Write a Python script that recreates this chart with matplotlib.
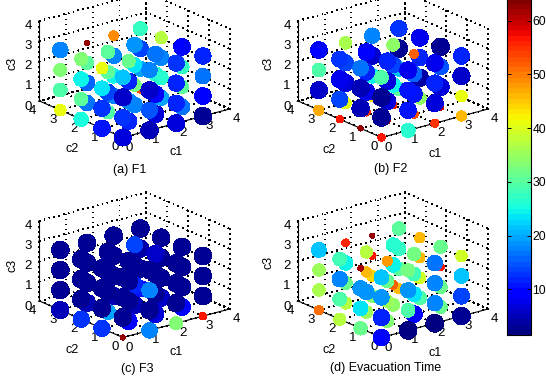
import matplotlib
matplotlib.use('Agg')
import matplotlib.pyplot as plt
import numpy as np

plt.rcParams['font.family'] = ['Liberation Sans', 'DejaVu Sans']
plt.rcParams['font.size'] = 9
plt.rcParams['grid.linestyle'] = (0, (1.4, 6.5))
plt.rcParams['grid.color'] = 'k'
plt.rcParams['grid.linewidth'] = 0.5

levels = [0, 1, 2, 3]
axis_ticks = [0, 1, 2, 3, 4]
cbar_ticks = [10, 20, 30, 40, 50, 60]
vmin = 1.5
vmax = 64

# indexed [c3][c2][c1]
f1 = [[[7, 5, 7, 3], [11, 12, 7, 17], [25, 29, 18, 20], [41, 17, 18, 53]],
      [[13, 15, 12, 9], [13, 18, 9, 30], [30, 14, 32, 26], [29, 16, 24, 20]],
      [[6, 6, 12, 17], [23, 12, 26, 27], [24, 30, 23, 18], [33, 30, 18, 14]],
      [[22, 18, 13, 12], [41, 31, 17, 9], [33, 30, 19, 37], [18, 63, 49, 27]]]

f2 = [[[57, 26, 55, 46], [63, 62, 53, 60], [57, 56, 56, 34], [47, 40, 44, 30]],
      [[3, 11, 7, 41], [5, 7, 11, 7], [14, 8, 24, 4], [6, 7, 24, 22]],
      [[3, 11, 12, 6], [5, 7, 16, 15], [8, 12, 14, 12], [29, 14, 6, 3]],
      [[29, 8, 8, 12], [17, 12, 52, 3], [13, 9, 34, 8], [10, 36, 18, 13]]]

f3 = [[[63, 18, 33, 57], [13, 9, 7, 9], [13, 20, 5, 6], [5, 5, 5, 11]],
      [[3, 3, 3, 3], [3, 3, 3, 3], [3, 3, 12, 3], [3, 3, 3, 3]],
      [[3, 18, 3, 3], [3, 3, 3, 3], [3, 3, 3, 3], [3, 3, 3, 4]],
      [[3, 3, 3, 3], [3, 3, 6, 3], [3, 3, 14, 3], [3, 3, 3, 3]]]

evac = [[[10, 2, 2, 3], [31, 33, 10, 31], [37, 35, 34, 29], [51, 37, 33, 46]],
        [[12, 29, 18, 14], [23, 35, 23, 31], [29, 19, 52, 39], [36, 31, 44, 30]],
        [[19, 19, 18, 22], [19, 31, 28, 57], [18, 46, 24, 46], [35, 24, 57, 27]],
        [[22, 32, 17, 39], [62, 48, 32, 31], [28, 37, 26, 46], [22, 56, 63, 30]]]

titles = ['(a) F1', '(b) F2', '(c) F3', '(d) Evacuation Time']
panels = [f1, f2, f3, evac]

W, H = 546, 383
fig = plt.figure(figsize=(W / 100, H / 100), dpi=100)


def px_box(l, t, w, h):
    return [l / W, 1 - (t + h) / H, w / W, h / H]


def put_text(x, y, txt, **kw):
    fig.text(x / W, 1 - y / H, txt, ha='center', va='center', **kw)


centers = [(131.4, 68), (390, 68), (131.4, 268), (390, 268)]
title_pos = [(130, 170), (391, 169), (137, 369), (386, 368)]
c1_pos = [(176, 152), (435, 154), (176, 352), (435, 353)]
c2_pos = [(72, 149), (329, 150), (72, 350), (329, 350)]
c3_pos = [(13, 63), (269, 63), (13, 265), (269, 262)]
side = 230

cmap = matplotlib.colormaps['jet'].resampled(64)
c3, c2, c1 = np.meshgrid(levels, levels, levels, indexing='ij')

for i in range(4):
    cen = centers[i]
    ax = fig.add_axes(px_box(cen[0] - side / 2, cen[1] - side / 2, side, side),
                      projection='3d', proj_type='ortho')
    ax.patch.set_alpha(0)
    ax.view_init(elev=20, azim=-128)
    ax.set_box_aspect((1, 1, 0.63), zoom=0.885)
    v = np.array(panels[i], dtype=float)
    # marker area falls with the value
    s = 4.7 * (69 - v.ravel()) * 0.5184
    ax.scatter(c1.ravel(), c2.ravel(), c3.ravel(), c=v.ravel(), s=s, cmap=cmap,
               vmin=vmin, vmax=vmax, depthshade=False, linewidths=0, alpha=1,
               antialiased=False)
    ax.set_xlim(0, 4, view_margin=0)
    ax.set_ylim(0, 4, view_margin=0)
    ax.set_zlim(0, 4, view_margin=0)
    ax.set_xticks(axis_ticks)
    ax.set_yticks(axis_ticks)
    ax.set_zticks(axis_ticks)
    ax.tick_params(axis='both', pad=-5, labelsize=9.5)
    ax.tick_params(axis='z', pad=-3, labelsize=9.5)
    for lab in ax.get_yticklabels():
        lab.set_ha('right')
    for lab in ax.get_xticklabels():
        lab.set_ha('left')
    for axis in (ax.xaxis, ax.yaxis, ax.zaxis):
        axis.set_pane_color((1, 1, 1, 0))
        axis.pane.set_edgecolor((1, 1, 1, 0))
        axis.line.set_color('k')
        axis.line.set_linewidth(0.8)
        axis.gridlines.set_antialiased(False)
        axis._axinfo['tick']['outward_factor'] = 0
        axis._axinfo['tick']['inward_factor'] = 0.1
        axis._axinfo['tick']['linewidth'] = {True: 0.6, False: 0.6}
    put_text(*title_pos[i], titles[i], fontsize=9)
    put_text(*c1_pos[i], 'c1', fontsize=9)
    put_text(*c2_pos[i], 'c2', fontsize=9)
    put_text(*c3_pos[i], 'c3', fontsize=9, rotation=90)

cax = fig.add_axes(px_box(507, -1, 24, 336))
sm = plt.cm.ScalarMappable(norm=plt.Normalize(vmin, vmax), cmap=cmap)
cb = fig.colorbar(sm, cax=cax, ticks=cbar_ticks)
cb.ax.tick_params(direction='in', length=3, width=0.7, labelsize=8.8, pad=1, left=True, right=True)
cb.outline.set_linewidth(0.8)

fig.savefig('out.png', dpi=100)
